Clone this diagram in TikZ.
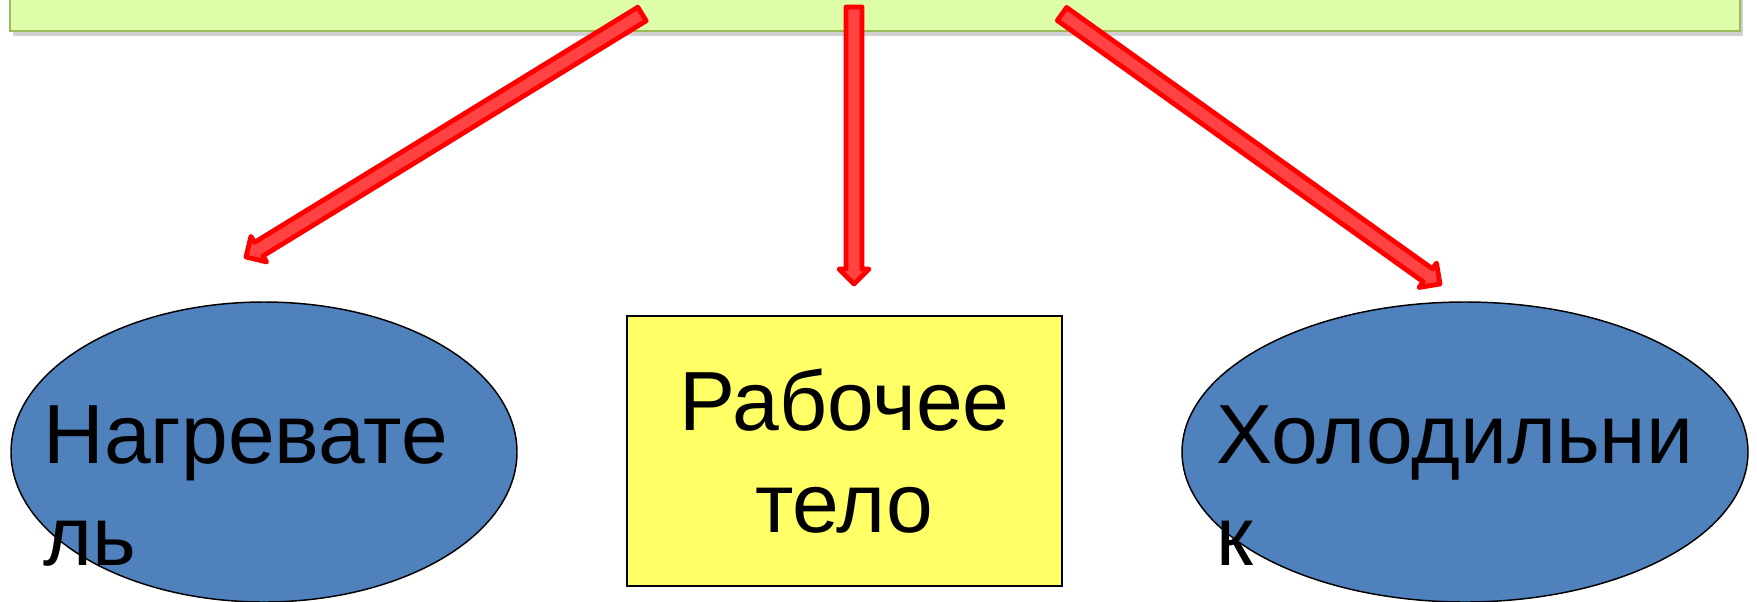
\documentclass[tikz,border=0pt]{standalone}
\usepackage{fontspec}
\setmainfont{Liberation Sans}
\usetikzlibrary{calc,shapes.geometric,shadows}

\definecolor{goalgreen}{RGB}{221,253,168}
\definecolor{goaledge}{RGB}{155,187,89}
\definecolor{arrowred}{RGB}{255,0,0}
\definecolor{arrowfill}{RGB}{255,66,66}
\definecolor{ovalblue}{RGB}{79,129,189}
\definecolor{bodyyellow}{RGB}{255,255,102}

\tikzset{every picture/.style={line width=0.75pt}}
\tikzset{
  bigtext/.style={font=\fontsize{63}{76.5}\selectfont, inner sep=0pt},
  oval/.style={ellipse, draw=black, line width=1.1pt, fill=ovalblue, inner sep=0pt},
  bodybox/.style={rectangle, draw=black, line width=1.5pt, fill=bodyyellow, inner sep=0pt},
  goalbox/.style={rectangle, draw=goaledge, line width=1.6pt, fill=goalgreen,
    drop shadow={shadow xshift=2.5pt, shadow yshift=-3.5pt, opacity=0.3, fill=black!60}},
  fatarrow/.style={draw=arrowred, fill=arrowfill, line width=3.6pt, line join=round},
}

% block arrow from #1 to #2
\newcommand{\fatarrow}[2]{%
  \coordinate (#1-#2-base) at ($(#2)!11.25pt!(#1)$);
  \draw[fatarrow] ($(#1)!6pt!90:(#2)$) -- ($(#1-#2-base)!6pt!90:(#2)$)
    -- ($(#1-#2-base)!11.25pt!90:(#2)$) -- (#2)
    -- ($(#1-#2-base)!11.25pt!-90:(#2)$) -- ($(#1-#2-base)!6pt!-90:(#2)$)
    -- ($(#1)!6pt!-90:(#2)$) -- cycle;
}

\begin{document}
\begin{tikzpicture}[x=0.75pt,y=0.75pt,yscale=-1,xscale=1]
  \useasboundingbox (0,0) rectangle (1757,601);

  %Shape: Rectangle
  \node[goalbox, minimum width=1297.5pt, minimum height=53.25pt] (goal) at (875,-4.5) {};

  %Shape: Ellipse
  \node[oval, minimum width=379.5pt, minimum height=225pt] (heater) at (264,452) {};
  %Shape: Rectangle
  \node[bodybox, minimum width=326.25pt, minimum height=202.5pt, bigtext, align=center] (body) at (844.5,451) {Рабочее\\тело};
  %Shape: Ellipse
  \node[oval, minimum width=424.5pt, minimum height=225pt] (cooler) at (1465,452) {};

  %Block Arrows
  \coordinate (heatTail) at (642,14);
  \coordinate (heatTip) at (246,257);
  \coordinate (bodyTail) at (854,7);
  \coordinate (bodyTip) at (854,284);
  \coordinate (coldTail) at (1062,14);
  \coordinate (coldTip) at (1440,284);
  \fatarrow{heatTail}{heatTip}
  \fatarrow{bodyTail}{bodyTip}
  \fatarrow{coldTail}{coldTip}

  % Text Node
  \node[bigtext, anchor=base west, align=left] (heaterlabel) at (43,565) {Нагревате\\ль};
  % Text Node
  \node[bigtext, anchor=base west, align=left] (coolerlabel) at (1216,565) {Холодильни\\к};
\end{tikzpicture}
\end{document}
